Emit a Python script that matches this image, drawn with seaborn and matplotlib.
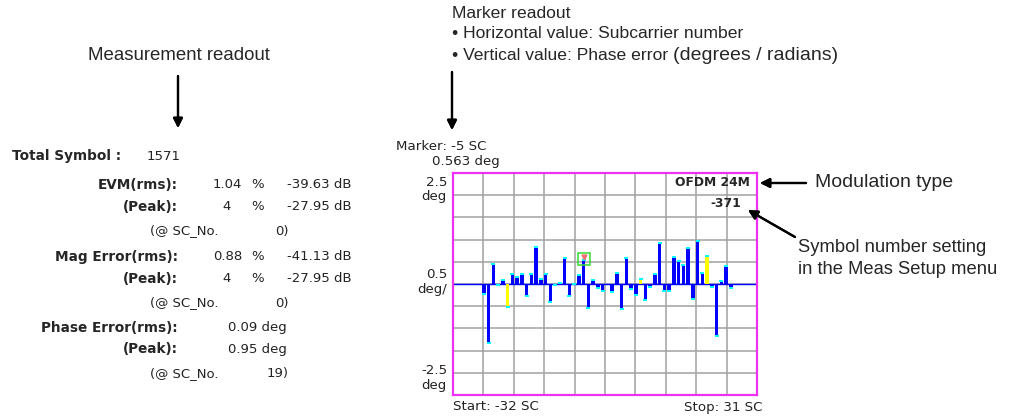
import numpy as np
import pandas as pd
import matplotlib.pyplot as plt
import seaborn as sns

# subcarrier numbers (SC 0 is the unused DC carrier)
subcarriers = list(range(-26, 0)) + list(range(1, 27))
# phase error per subcarrier in degrees
phase_err = [-0.25, -1.34, 0.47, -0.05, 0.11, -0.53, 0.24, 0.17, 0.25, -0.28,
             0.25, 0.86, 0.14, 0.25, -0.43, -0.05, 0.05, 0.60, -0.30, -0.03,
             0.23, 0.563, -0.57, 0.11, -0.11, -0.18,
             -0.21, 0.26, -0.58, 0.60, -0.14, -0.26, 0.13, -0.38, -0.08, 0.25,
             0.94, -0.17, -0.17, 0.63, 0.53, 0.45, 0.84, -0.36, 0.99, 0.26,
             0.65, -0.08, -1.18, 0.08, 0.42, -0.10]
# pilot subcarriers are drawn in yellow
pilots = [-21, -7, 7, 21]
marker_sc = -5
marker_val = 0.563

# measurement readout on the left
readout_labels = ['EVM(rms):', '(Peak):', 'Mag Error(rms):', '(Peak):',
                  'Phase Error(rms):', '(Peak):']

W, H = 1018, 417
sns.set_style('white')
plt.rcParams['font.family'] = ['DejaVu Sans']

fig = plt.figure(figsize=(W / 100, H / 100), dpi=100)


def px(x, y):
    # pixel position (from top left) -> figure fraction
    return x / W, 1 - y / H


def txt(x, y, s, **kw):
    kw.setdefault('va', 'center')
    return fig.text(*px(x, y), s, **kw)


# axes placed where the instrument screen is
ax = fig.add_axes([453 / W, 1 - 395 / H, 304 / W, 222 / H])

df = pd.DataFrame({'SC': subcarriers, 'phase': phase_err})
df['type'] = np.where(df['SC'].isin(pilots), 'pilot', 'data')
# cyan cap at the end of each bar (last ~2 px)
df['tip'] = df['phase'] - np.sign(df['phase']) * 0.02

sns.barplot(data=df, x='SC', y='phase', hue='type',
            palette={'data': '#0000ff', 'pilot': '#ffff00'},
            native_scale=True, width=0.7, dodge=False, errorbar=None,
            saturation=1, linewidth=0, legend=False, ax=ax, zorder=3)
tip_marker = [(-1.6, -1), (1.6, -1), (1.6, 1), (-1.6, 1)]
sns.scatterplot(data=df, x='SC', y='tip', marker=tip_marker, s=6,
                color='#00ffff', linewidth=0, legend=False, ax=ax, zorder=4)

# zero line
ax.axhline(0, color='#0000ff', lw=1, zorder=2)

# marker box
ax.plot(marker_sc, marker_val, marker='s', ms=8.6, mfc='none', mec='#33dd33',
        mew=1.1, zorder=5)
ax.plot(marker_sc, marker_val + 0.05, marker='v', ms=3.5, color='#f07070',
        zorder=6)

# 10 x 10 screen grid
ax.set_xlim(-32.5, 31.5)
ax.set_ylim(-2.5, 2.5)
ax.set_xticks(np.linspace(-32.5, 31.5, 11))
ax.set_yticks(np.linspace(-2.5, 2.5, 11))
ax.grid(True, color='#a0a0a0', lw=1.1)
ax.set_axisbelow(True)
ax.tick_params(length=0, labelbottom=False, labelleft=False)
ax.set_xlabel('')
ax.set_ylabel('')
for s in ax.spines.values():
    s.set_color('#f030f0')
    s.set_linewidth(1.6)

# screen texts
scr = dict(fontsize=9.6, color='#222222')
txt(396, 147, 'Marker: -5 SC', **scr)
txt(432, 162, '0.563 deg', **scr)
txt(447, 183, '2.5', ha='right', **scr)
txt(447, 197, 'deg', ha='right', **scr)
txt(447, 275, '0.5', ha='right', **scr)
txt(447, 290, 'deg/', ha='right', **scr)
txt(447, 370, '-2.5', ha='right', **scr)
txt(447, 385, 'deg', ha='right', **scr)
txt(453, 407, 'Start: -32 SC', **scr)
txt(762, 407, 'Stop: 31 SC', ha='right', **scr)
txt(750, 183, 'OFDM 24M', ha='right', fontsize=8.8, fontweight='bold')
txt(741, 203, '-371', ha='right', fontsize=8.8, fontweight='bold')

# measurement readout
lab = dict(fontsize=9.8, fontweight='bold')
val = dict(fontsize=9.5, color='#222222')
txt(12, 156, 'Total Symbol :', **lab)
txt(147, 156, '1571', **val)
rows_y = [185, 207, 257, 279, 328, 349]
for label, y in zip(readout_labels, rows_y):
    txt(178, y, label, ha='right', **lab)
txt(213, 185, '1.04', **val)
txt(222, 207, '4', **val)
txt(213, 257, '0.88', **val)
txt(222, 279, '4', **val)
for y in [185, 207, 257, 279]:
    txt(251, y, '%', **val)
txt(287, 185, '-39.63 dB', **val)
txt(287, 207, '-27.95 dB', **val)
txt(287, 257, '-41.13 dB', **val)
txt(287, 279, '-27.95 dB', **val)
txt(228, 328, '0.09 deg', **val)
txt(228, 349, '0.95 deg', **val)
for y, n in [(231, '0)'), (303, '0)'), (374, '19)')]:
    txt(150, y, '(@ SC_No.', **val)
    txt(289, y, n, ha='right', **val)

# callouts
note = dict(fontsize=12.6, family='Liberation Sans')
txt(88, 56, 'Measurement readout', fontsize=13.4, family='Liberation Sans')
txt(452, 13, 'Marker readout', **note)
txt(452, 34, '\u2022 Horizontal value: Subcarrier number', **note)
t = txt(452, 55, '\u2022 Vertical value: Phase error ', **note)
fig.canvas.draw()
ext = t.get_window_extent()
fig.text(ext.x1 / W, 1 - 55 / H, '(degrees / radians)', va='center',
         fontsize=14, family='Liberation Sans')
txt(815, 183, 'Modulation type', fontsize=14, family='Liberation Sans')
txt(798, 248, 'Symbol number setting', fontsize=13.2, family='Liberation Sans')
txt(798, 269, 'in the Meas Setup menu', fontsize=13.2, family='Liberation Sans')

arrow = dict(arrowstyle='-|>', color='black', lw=1.6, mutation_scale=14,
             shrinkA=0, shrinkB=0)
arrows = [((178, 76), (178, 128)), ((452, 72), (452, 130)),
          ((806, 183), (760, 183)), ((795, 237), (748, 210))]
for (x0, y0), (x1, y1) in arrows:
    fig.add_artist(plt.annotate('', xy=(x1, H - y1), xytext=(x0, H - y0),
                                xycoords='figure pixels',
                                textcoords='figure pixels',
                                arrowprops=arrow))

plt.savefig('out.png', dpi=100)
